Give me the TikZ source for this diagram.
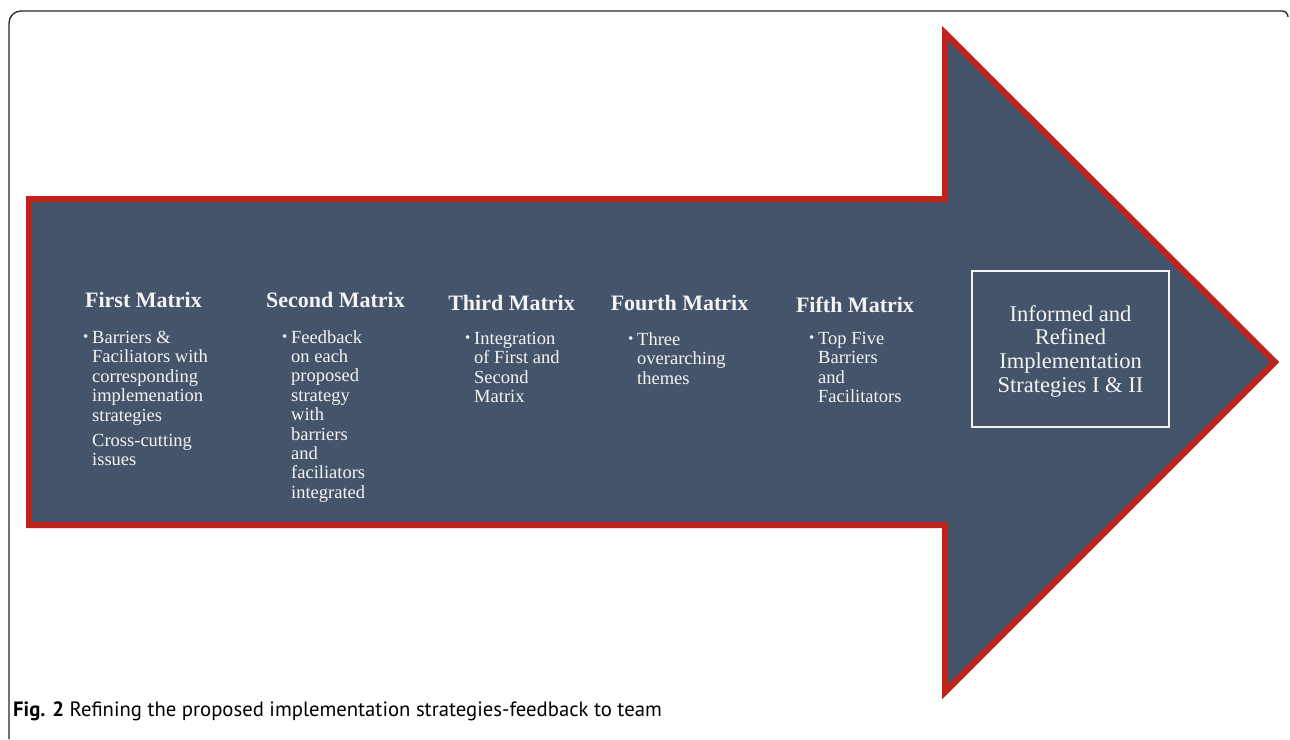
\documentclass[tikz,border=0pt]{standalone}
\usepackage{fontspec}
\setmainfont{Liberation Serif}
\newfontfamily\capfont{PT Sans}
\definecolor{slate}{HTML}{44546A}
\definecolor{arrowred}{HTML}{C0231B}
\definecolor{txt}{HTML}{F4F4F4}
\tikzset{
  head/.style={inner sep=0pt, text=txt, font=\fontsize{22}{24}\selectfont\bfseries},
  body/.style={inner sep=0pt, text=txt, font=\fontsize{18.5}{19.5}\selectfont, anchor=base west},
  bul/.style={inner sep=0pt, text=txt, font=\fontsize{15}{16}\selectfont, anchor=base west},
  boxtxt/.style={inner sep=0pt, text=txt, font=\fontsize{22.5}{23.6}\selectfont, anchor=base},
}
\begin{document}
\begin{tikzpicture}[x=1pt,y=-1pt]
\useasboundingbox (0,0) rectangle (1290,739);
% frame
\draw[line width=1.3pt, black!85] (9,739) -- (9,23) arc[start angle=180,end angle=270,radius=12] -- (1282,11) arc[start angle=270,end angle=360,radius=6];
% arrow
\draw[fill=slate, draw=arrowred, line width=6pt, miter limit=10]
  (29,199) -- (945,199) -- (945,33) -- (1275,362) -- (945,692) -- (945,525) -- (29,525) -- cycle;
% headings
\node[head, anchor=base] (h1) at (143.5,307) {First Matrix};
\node[head, anchor=base] (h2) at (335.5,307) {Second Matrix};
\node[head, anchor=base] (h3) at (511.5,310) {Third Matrix};
\node[head, anchor=base] (h4) at (679.5,310) {Fourth Matrix};
\node[head, anchor=base] (h5) at (855,312) {Fifth Matrix};
% column 1
\node[bul] (b1) at (83,341) {\textbullet};
\foreach \t [count=\i] in {Barriers \&, Faciliators with, corresponding, implemenation, strategies}
  \node[body] (a\i) at (92,{343+(\i-1)*19.5}) {\t};
\node[body] (a6) at (92,446) {Cross-cutting};
\node[body] (a7) at (92,465.5) {issues};
% column 2
\node[bul] (b2) at (282,341) {\textbullet};
\foreach \t [count=\i] in {Feedback, on each, proposed, strategy, with, barriers, and, faciliators, integrated}
  \node[body] (s\i) at (291,{343+(\i-1)*19.4}) {\t};
% column 3
\node[bul] (b3) at (465,342) {\textbullet};
\foreach \t [count=\i] in {Integration, of First and, Second, Matrix}
  \node[body] (t\i) at (474,{344+(\i-1)*19.5}) {\t};
% column 4
\node[bul] (b4) at (628,343) {\textbullet};
\foreach \t [count=\i] in {Three, overarching, themes}
  \node[body] (f\i) at (637,{345+(\i-1)*19.5}) {\t};
% column 5
\node[bul] (b5) at (809,342) {\textbullet};
\foreach \t [count=\i] in {Top Five, Barriers, and, Facilitators}
  \node[body] (v\i) at (818,{344+(\i-1)*19.5}) {\t};
% result box
\draw[draw=txt, line width=1.3pt] (972,271) rectangle (1169,427);
\foreach \t [count=\i] in {Informed and, Refined, Implementation, Strategies I \& II}
  \node[boxtxt] (r\i) at (1070.5,{321+(\i-1)*23.7}) {\t};
% caption
\node[anchor=base west, inner sep=0pt, font=\capfont\fontsize{20.7}{23}\selectfont] (cap) at (13,716)
  {\textbf{Fig. 2} Refining the proposed implementation strategies-feedback to team};
\end{tikzpicture}
\end{document}
